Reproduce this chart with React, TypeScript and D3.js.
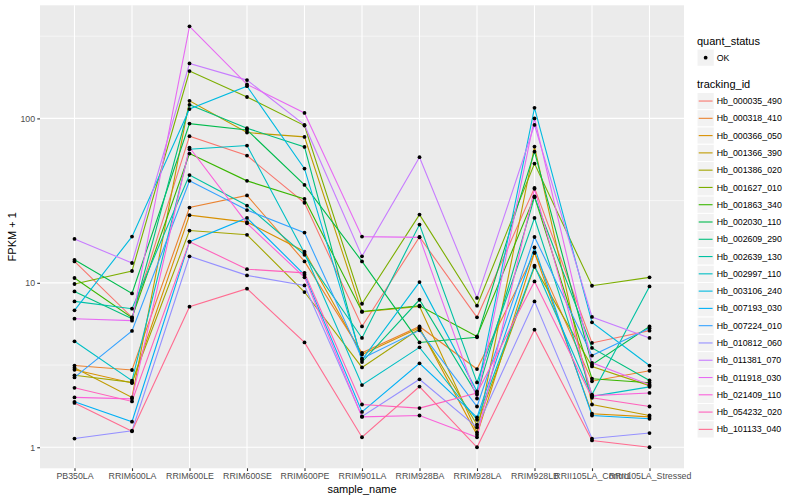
import * as d3 from 'd3';
import React, { useEffect, useRef } from 'react';

const samples = [
  'PB350LA', 'RRIM600LA', 'RRIM600LE', 'RRIM600SE', 'RRIM600PE', 'RRIM901LA',
  'RRIM928BA', 'RRIM928LA', 'RRIM928LB', 'RRII105LA_Control', 'RRII105LA_Stressed'
];

const trackingIds = [
  'Hb_000035_490', 'Hb_000318_410', 'Hb_000366_050', 'Hb_001366_390', 'Hb_001386_020',
  'Hb_001627_010', 'Hb_001863_340', 'Hb_002030_110', 'Hb_002609_290', 'Hb_002639_130',
  'Hb_002997_110', 'Hb_003106_240', 'Hb_007193_030', 'Hb_007224_010', 'Hb_010812_060',
  'Hb_011381_070', 'Hb_011918_030', 'Hb_021409_110', 'Hb_054232_020', 'Hb_101133_040'
];

// ggplot hue palette, 20 levels
const trackingColors = [
  '#F8766D', '#EA8331', '#D89000', '#C09B00', '#A3A500', '#7CAE00', '#39B600', '#00BB4E',
  '#00BF7D', '#00C1A3', '#00BFC4', '#00BAE0', '#00B0F6', '#35A2FF', '#9590FF', '#C77CFF',
  '#E76BF3', '#FA62DB', '#FF62BC', '#FF6C91'
];

// FPKM + 1, one row per tracking_id, columns follow samples
const fpkm: number[][] = [
  [13.5, 6.17, 78, 59.4, 30.7, 5.43, 19.0, 6.17, 37.8, 4.31, 5.12],
  [3.14, 2.95, 28.7, 34.0, 13.5, 3.75, 5.43, 2.99, 15.2, 2.52, 2.92],
  [2.96, 2.46, 25.8, 23.4, 15.5, 3.66, 5.34, 1.19, 15.3, 1.60, 1.53],
  [3.04, 2.01, 128, 82, 77.2, 6.65, 7.19, 1.23, 67.4, 1.82, 1.56],
  [2.74, 2.48, 20.8, 19.6, 8.79, 3.06, 5.26, 1.37, 12.5, 3.10, 2.37],
  [9.84, 11.8, 194, 135, 90.4, 7.46, 26.0, 7.26, 53.1, 9.60, 10.8],
  [10.7, 6.14, 61.1, 41.7, 32.4, 6.70, 7.26, 4.72, 33.5, 2.61, 2.47],
  [13.8, 8.62, 93.0, 85.1, 39.4, 13.5, 4.34, 4.66, 62.8, 3.18, 5.43],
  [8.87, 6.05, 121, 87.1, 67.1, 3.30, 7.89, 2.09, 33.2, 4.02, 2.55],
  [7.71, 6.96, 45.2, 29.5, 14.8, 4.62, 22.6, 2.48, 24.8, 2.09, 9.51],
  [4.41, 2.54, 65.0, 68.4, 15.2, 2.39, 4.05, 1.47, 12.7, 2.04, 2.33],
  [6.80, 19.1, 114, 157, 49.5, 3.40, 10.1, 2.19, 116, 5.75, 3.14],
  [1.89, 1.43, 17.8, 24.8, 11.2, 1.64, 3.24, 1.52, 16.4, 1.56, 1.49],
  [2.66, 5.10, 41.7, 27.7, 20.2, 3.46, 5.14, 1.77, 19.0, 3.61, 5.30],
  [1.13, 1.26, 14.5, 11.1, 9.64, 1.54, 2.59, 1.32, 7.71, 1.13, 1.22],
  [18.5, 13.2, 216, 171, 91.3, 14.5, 58.1, 8.09, 91.3, 6.20, 4.62],
  [6.05, 5.89, 363, 161, 108, 19.1, 18.9, 1.98, 100, 3.26, 2.40],
  [2.01, 1.97, 66.5, 23.0, 10.8, 1.53, 1.56, 1.15, 37.3, 2.06, 2.14],
  [2.30, 1.90, 17.8, 12.1, 11.5, 1.82, 1.73, 2.14, 10.2, 2.00, 1.77],
  [1.86, 1.25, 7.16, 9.21, 4.34, 1.15, 2.34, 1.00, 5.19, 1.10, 1.00]
];

const yTicks = [1, 10, 100];
const yMinor = [Math.pow(10, 0.5), Math.pow(10, 1.5), Math.pow(10, 2.5)];

const FONT = '"Liberation Sans", Arial, Helvetica, sans-serif';

const App: React.FC = () => {
  const svgRef = useRef<SVGSVGElement>(null);
  const width = 800;
  const height = 500;

  useEffect(() => {
    if (!svgRef.current) return;
    const svg = d3.select(svgRef.current);
    svg.selectAll('*').remove();

    const panel = { left: 40, top: 5.3, right: 684, bottom: 468.3 };

    const all = fpkm.flat();
    const lmin = Math.log10(d3.min(all) || 1);
    const lmax = Math.log10(d3.max(all) || 10);
    const pad = (lmax - lmin) * 0.05;

    const y = d3.scaleLog()
      .domain([Math.pow(10, lmin - pad), Math.pow(10, lmax + pad)])
      .range([panel.bottom, panel.top]);

    const x = d3.scalePoint<string>()
      .domain(samples)
      .range([panel.left, panel.right])
      .padding(0.6);

    // panel background + grid
    svg.append('rect')
      .attr('x', panel.left)
      .attr('y', panel.top)
      .attr('width', panel.right - panel.left)
      .attr('height', panel.bottom - panel.top)
      .attr('fill', '#EBEBEB');

    const grid = svg.append('g');
    grid.selectAll('line.minor')
      .data(yMinor)
      .join('line')
      .attr('class', 'minor')
      .attr('x1', panel.left).attr('x2', panel.right)
      .attr('y1', d => y(d)).attr('y2', d => y(d))
      .attr('stroke', '#fff').attr('stroke-width', 0.55);
    grid.selectAll('line.majorY')
      .data(yTicks)
      .join('line')
      .attr('class', 'majorY')
      .attr('x1', panel.left).attr('x2', panel.right)
      .attr('y1', d => y(d)).attr('y2', d => y(d))
      .attr('stroke', '#fff').attr('stroke-width', 1.1);
    grid.selectAll('line.majorX')
      .data(samples)
      .join('line')
      .attr('class', 'majorX')
      .attr('x1', d => x(d) || 0).attr('x2', d => x(d) || 0)
      .attr('y1', panel.top).attr('y2', panel.bottom)
      .attr('stroke', '#fff').attr('stroke-width', 1.1);

    // lines
    const line = d3.line<number>()
      .x((_, i) => x(samples[i]) || 0)
      .y(d => y(d));

    svg.append('g')
      .selectAll('path')
      .data(fpkm)
      .join('path')
      .attr('d', d => line(d))
      .attr('fill', 'none')
      .attr('stroke', (_, i) => trackingColors[i])
      .attr('stroke-width', 1.1);

    // points
    const pts = fpkm.flatMap(row => row.map((v, i) => ({ s: samples[i], v })));
    svg.append('g')
      .selectAll('circle')
      .data(pts)
      .join('circle')
      .attr('cx', d => x(d.s) || 0)
      .attr('cy', d => y(d.v))
      .attr('r', 1.9)
      .attr('fill', '#000');

    // axes
    const yAxis = svg.append('g')
      .attr('transform', `translate(${panel.left},0)`)
      .call(d3.axisLeft(y).tickValues(yTicks).tickFormat(d3.format('d')).tickSize(2.75).tickPadding(2.2));
    const xAxis = svg.append('g')
      .attr('transform', `translate(0,${panel.bottom})`)
      .call(d3.axisBottom(x).tickSize(2.75).tickPadding(2.2));

    [yAxis, xAxis].forEach(ax => {
      ax.select('.domain').remove();
      ax.selectAll('.tick line').attr('stroke', '#333333').attr('stroke-width', 1.1);
      ax.selectAll('.tick text')
        .attr('fill', '#4D4D4D')
        .attr('font-size', '8.8px')
        .attr('font-family', FONT);
    });

    // axis titles
    svg.append('text')
      .attr('x', (panel.left + panel.right) / 2)
      .attr('y', 493)
      .attr('text-anchor', 'middle')
      .attr('font-size', '11px')
      .attr('font-family', FONT)
      .attr('fill', '#000')
      .text('sample_name');

    svg.append('text')
      .attr('transform', `translate(16, ${(panel.top + panel.bottom) / 2}) rotate(-90)`)
      .attr('text-anchor', 'middle')
      .attr('font-size', '11px')
      .attr('font-family', FONT)
      .attr('fill', '#000')
      .text('FPKM + 1');

    // legends
    const keySize = 17.28;
    const legend = svg.append('g').attr('transform', 'translate(697, 0)');

    legend.append('text')
      .attr('x', 0).attr('y', 44.5)
      .attr('font-size', '11px').attr('font-family', FONT)
      .text('quant_status');
    legend.append('rect')
      .attr('x', 0).attr('y', 49)
      .attr('width', keySize).attr('height', keySize)
      .attr('fill', '#F2F2F2').attr('stroke', '#fff');
    legend.append('circle')
      .attr('cx', keySize / 2).attr('cy', 49 + keySize / 2)
      .attr('r', 1.9).attr('fill', '#000');
    legend.append('text')
      .attr('x', keySize + 2.5).attr('y', 49 + keySize / 2)
      .attr('dy', '0.35em')
      .attr('font-size', '8.8px').attr('font-family', FONT)
      .text('OK');

    legend.append('text')
      .attr('x', 0).attr('y', 88)
      .attr('font-size', '11px').attr('font-family', FONT)
      .text('tracking_id');

    const items = legend.selectAll('g.item')
      .data(trackingIds)
      .join('g')
      .attr('class', 'item')
      .attr('transform', (_, i) => `translate(0, ${92.4 + i * keySize})`);

    items.append('rect')
      .attr('width', keySize).attr('height', keySize)
      .attr('fill', '#F2F2F2').attr('stroke', '#fff');
    items.append('line')
      .attr('x1', 1.7).attr('x2', keySize - 1.7)
      .attr('y1', keySize / 2).attr('y2', keySize / 2)
      .attr('stroke', (_, i) => trackingColors[i])
      .attr('stroke-width', 1.1);
    items.append('text')
      .attr('x', keySize + 2.5).attr('y', keySize / 2)
      .attr('dy', '0.35em')
      .attr('font-size', '8.8px').attr('font-family', FONT)
      .text(d => d);
  }, []);

  return (
    <div style={{ position: 'absolute', left: 0, top: 0 }}>
      <svg ref={svgRef} width={width} height={height} style={{ display: 'block', background: '#fff' }} />
    </div>
  );
};

export default App;
